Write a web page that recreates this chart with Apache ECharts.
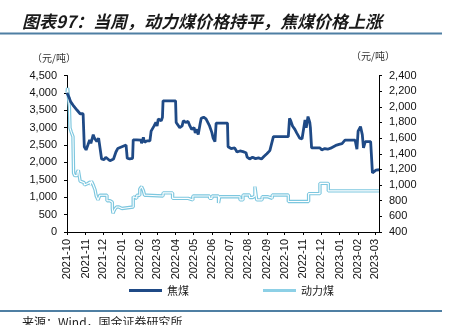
<!DOCTYPE html>
<html>
<head>
<meta charset="utf-8">
<script src="https://cdn.jsdelivr.net/npm/echarts@6/dist/echarts.min.js"></script>
<style>html,body{margin:0;padding:0;background:#fff}#c{width:455px;height:325px}</style>
</head>
<body>
<div id="c"></div>
<script>
// ---- data ----
const titleText = '图表97：当周，动力煤价格持平，焦煤价格上涨';
const sourceText = '来源：Wind，国金证券研究所';
const unitText = '（元/吨）';
const seriesNames = ['焦煤', '动力煤'];
const tickLabels = ['2021-10','2021-11','2021-12','2022-01','2022-02','2022-03','2022-04','2022-05','2022-06','2022-07','2022-08','2022-09','2022-10','2022-11','2022-12','2023-01','2023-02','2023-03'];
const axisStart = '2021-10-01';
const axisEnd = '2023-03-08';

// 焦煤 (left axis)
const cokingDates = ['2021-10-01','2021-10-03','2021-10-05','2021-10-07','2021-10-09','2021-10-11','2021-10-14','2021-10-18','2021-10-19','2021-10-23','2021-10-28','2021-10-30','2021-11-02','2021-11-05','2021-11-08','2021-11-10','2021-11-14','2021-11-16','2021-11-18','2021-11-20','2021-11-23','2021-11-25','2021-11-28','2021-12-02','2021-12-05','2021-12-08','2021-12-12','2021-12-15','2021-12-18','2021-12-22','2021-12-25','2021-12-28','2022-01-01','2022-01-04','2022-01-08','2022-01-10','2022-01-14','2022-01-19','2022-01-20','2022-01-26','2022-02-02','2022-02-03','2022-02-06','2022-02-08','2022-02-12','2022-02-17','2022-02-19','2022-02-22','2022-02-24','2022-02-27','2022-03-01','2022-03-03','2022-03-06','2022-03-08','2022-03-10','2022-03-11','2022-04-01','2022-04-02','2022-04-05','2022-04-08','2022-04-12','2022-04-14','2022-04-18','2022-04-22','2022-04-25','2022-04-28','2022-05-02','2022-05-04','2022-05-07','2022-05-09','2022-05-12','2022-05-14','2022-05-18','2022-05-22','2022-05-25','2022-05-28','2022-05-30','2022-06-01','2022-06-03','2022-06-06','2022-06-08','2022-06-27','2022-06-28','2022-07-03','2022-07-06','2022-07-09','2022-07-13','2022-07-18','2022-07-23','2022-07-28','2022-07-30','2022-08-03','2022-08-08','2022-08-13','2022-08-18','2022-08-23','2022-08-27','2022-09-01','2022-09-06','2022-09-12','2022-10-07','2022-10-09','2022-10-11','2022-10-14','2022-10-18','2022-10-21','2022-10-26','2022-10-30','2022-11-04','2022-11-06','2022-11-09','2022-11-12','2022-11-13','2022-11-15','2022-11-29','2022-12-02','2022-12-07','2022-12-12','2022-12-17','2022-12-20','2022-12-27','2022-12-31','2023-01-05','2023-01-10','2023-01-27','2023-01-30','2023-02-01','2023-02-05','2023-02-08','2023-02-10','2023-02-13','2023-02-22','2023-02-25','2023-02-28','2023-03-03','2023-03-08'];
const cokingValues = [4000,3950,3850,3750,3800,3650,3600,3500,3450,3400,3400,2450,2360,2500,2650,2550,2800,2700,2750,2600,2700,2650,2100,2080,2150,2100,2050,2020,2100,2300,2400,2350,2450,2400,2500,2120,2100,2120,2650,2650,2640,2550,2720,2580,2620,2620,2900,2850,3050,3150,3050,3250,3300,3200,3300,3770,3770,3150,3100,3000,3050,3200,3150,3180,3050,2950,3000,2850,2950,2800,3100,3270,3300,3250,3200,3050,2950,2850,2700,2600,3130,3130,2450,2400,2350,2420,2300,2330,2310,2280,2150,2100,2150,2110,2130,2100,2170,2250,2340,2740,2740,3270,3200,3050,2950,2850,2700,2680,3220,3000,3320,3150,3000,2420,2420,2360,2400,2380,2410,2460,2500,2520,2540,2640,2640,2380,2900,3030,2800,2420,2600,2600,1700,1700,1780,1790];

// 动力煤 (right axis)
const thermalDates = ['2021-10-01','2021-10-02','2021-10-05','2021-10-06','2021-10-08','2021-10-11','2021-10-12','2021-10-14','2021-10-18','2021-10-20','2021-10-23','2021-10-26','2021-10-30','2021-11-02','2021-11-05','2021-11-09','2021-11-11','2021-11-14','2021-11-17','2021-11-19','2021-11-22','2021-11-25','2021-11-30','2021-12-03','2021-12-07','2021-12-12','2021-12-16','2021-12-17','2021-12-20','2021-12-23','2021-12-27','2022-01-01','2022-01-20','2022-01-23','2022-01-26','2022-01-31','2022-02-03','2022-02-06','2022-02-08','2022-02-12','2022-03-11','2022-03-27','2022-04-22','2022-04-25','2022-04-30','2022-05-28','2022-06-01','2022-06-12','2022-06-14','2022-07-18','2022-07-23','2022-08-03','2022-08-08','2022-08-12','2022-08-15','2022-08-24','2022-09-03','2022-09-10','2022-10-07','2022-11-10','2022-11-29','2022-12-13','2023-03-08'];
const thermalValues = [2180,2240,2000,1730,1680,1620,1150,1120,1160,1190,1050,1030,1000,1020,1040,1000,1050,1000,940,860,810,870,890,870,800,780,700,640,690,720,700,720,850,830,870,950,980,930,870,860,900,830,850,810,860,830,860,770,850,810,873,840,860,980,810,850,830,873,790,890,1022,925,925];

// ---- build ----
function ts(s){ const p = s.split('-').map(Number); return Date.UTC(p[0], p[1]-1, p[2] || 1); }
const tickValues = tickLabels.map(l => ts(l));
const coking = cokingDates.map((d,i) => [ts(d), cokingValues[i]]);
const thermal = thermalDates.map((d,i) => [ts(d), thermalValues[i]]);
const fmt = v => v.toLocaleString('en-US');
const labelFont = {fontFamily:'Liberation Sans, Arial, sans-serif', fontSize:11, color:'#111'};
const cjk = 'Noto Sans CJK SC, sans-serif';

const chart = echarts.init(document.getElementById('c'), null, {renderer:'canvas'});
chart.setOption({
  animation:false,
  backgroundColor:'#fff',
  grid:{left:67, right:76, top:75.5, bottom:93, containLabel:false},
  legend:{
    data:seriesNames, left:124, top:280, icon:'rect', itemWidth:33, itemHeight:3, itemGap:74,
    textStyle:{fontFamily:cjk, fontSize:11, color:'#222'}
  },
  xAxis:{
    type:'value', min:ts(axisStart), max:ts(axisEnd), scale:true,
    axisLine:{show:true, lineStyle:{color:'#000', width:1}},
    axisTick:{show:true, length:3, customValues:tickValues, lineStyle:{color:'#000'}},
    axisLabel:Object.assign({rotate:90, margin:7, customValues:tickValues, hideOverlap:false, showMinLabel:true, showMaxLabel:true,
      formatter:v => { const i = tickValues.indexOf(v); return i >= 0 ? tickLabels[i] : ''; }}, labelFont),
    splitLine:{show:false}
  },
  yAxis:[
    {type:'value', min:0, max:4500, interval:500, position:'left',
     axisLine:{show:true, lineStyle:{color:'#000'}},
     axisTick:{show:true, length:3, lineStyle:{color:'#000'}},
     axisLabel:Object.assign({margin:10, formatter:fmt}, labelFont),
     splitLine:{show:false}},
    {type:'value', min:400, max:2400, interval:200, position:'right',
     axisLine:{show:true, lineStyle:{color:'#000'}},
     axisTick:{show:true, length:3, lineStyle:{color:'#000'}},
     axisLabel:Object.assign({margin:10, formatter:fmt}, labelFont),
     splitLine:{show:false}}
  ],
  series:[
    {name:seriesNames[1], type:'line', yAxisIndex:1, data:thermal, step:'end', showSymbol:false, symbol:'none', z:2,
     lineStyle:{color:'#7DC7DF', width:3.4}, itemStyle:{color:'#8DD0E6'}},
    {name:'', type:'line', yAxisIndex:1, data:thermal, step:'end', showSymbol:false, symbol:'none', z:3, silent:true,
     lineStyle:{color:'#ffffff', width:1.1}, itemStyle:{color:'#ffffff'}},
    {name:seriesNames[0], type:'line', yAxisIndex:0, data:coking, showSymbol:false, symbol:'none', z:4,
     lineStyle:{color:'#1F4A86', width:2.8}, itemStyle:{color:'#1F4A86'}}
  ],
  graphic:[
    {type:'text', left:22, top:13, style:{text:titleText, font:'italic bold 17px "Noto Sans CJK SC", sans-serif', fill:'#1a1a1a'}},
    {type:'rect', shape:{x:0, y:32.5, width:442, height:2}, style:{fill:'#4F7FA3'}},
    {type:'text', left:32, top:53, style:{text:unitText, font:'10px "Noto Sans CJK SC", sans-serif', fill:'#333'}},
    {type:'text', left:351, top:51, style:{text:unitText, font:'10px "Noto Sans CJK SC", sans-serif', fill:'#333'}},
    {type:'rect', shape:{x:0, y:310, width:442, height:2}, style:{fill:'#4F7FA3'}},
    {type:'text', left:22, top:316, style:{text:sourceText, font:'12px "Noto Sans CJK SC", sans-serif', fill:'#222'}}
  ]
});
</script>
</body>
</html>
